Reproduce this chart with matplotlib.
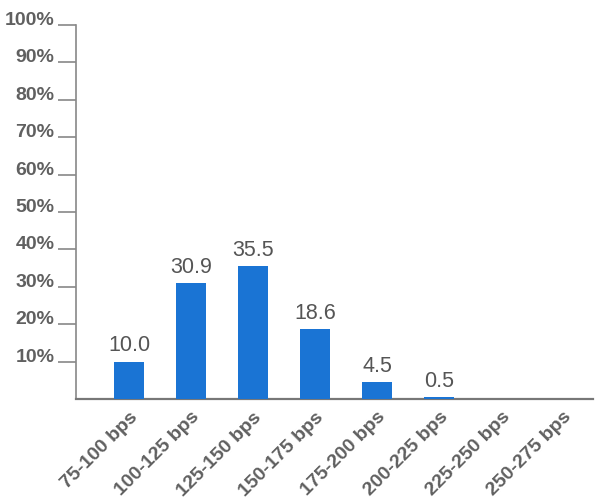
import matplotlib.pyplot as plt
import matplotlib.patheffects as pe

plt.rcParams['font.family'] = ['Liberation Sans', 'DejaVu Sans']

# Data
categories = ["75-100 bps", "100-125 bps", "125-150 bps", "150-175 bps",
              "175-200 bps", "200-225 bps", "225-250 bps", "250-275 bps"]
values = [10.0, 30.9, 35.5, 18.6, 4.5, 0.5, 0, 0]
y_ticks = [10, 20, 30, 40, 50, 60, 70, 80, 90, 100]

fig = plt.figure(figsize=(6, 4.99), dpi=100)
ax = fig.add_axes([76 / 600, 100 / 499, 517 / 600, 374 / 499])

x = list(range(len(categories)))
bars = ax.bar(x, values, width=0.48, color="#1A74D4", zorder=3)
for b in bars:
    b.set_path_effects([pe.SimplePatchShadow(offset=(0, -1.5), shadow_rgbFace="#000000", alpha=0.12), pe.Normal()])

for xi, v in zip(x, values):
    if v > 0:
        ax.text(xi, v + 1.4, f"{v:.1f}", ha="center", va="bottom",
                fontsize=15.5, color="#555555")

ax.set_xlim(-0.855, 7.48)
ax.set_ylim(0, 100)
ax.set_yticks(y_ticks)
ax.set_yticklabels([f"{t}%" for t in y_ticks], fontsize=14, fontweight="bold", color="#606060")
for lbl in ax.get_yticklabels():
    lbl.set_va("baseline")
ax.tick_params(axis="y", length=13, width=1.2, color="#888888", pad=2.5)

ax.set_xticks(x)
ax.set_xticklabels(categories, rotation=45, ha="right", rotation_mode="anchor",
                   fontsize=14, fontweight="bold", color="#606060")
ax.tick_params(axis="x", length=0, pad=7)

for s in ["top", "right"]:
    ax.spines[s].set_visible(False)
ax.spines["left"].set_color("#888888")
ax.spines["left"].set_linewidth(1.2)
ax.spines["bottom"].set_color("#777777")
ax.spines["bottom"].set_linewidth(1.6)

fig.savefig("out.png", dpi=100)
